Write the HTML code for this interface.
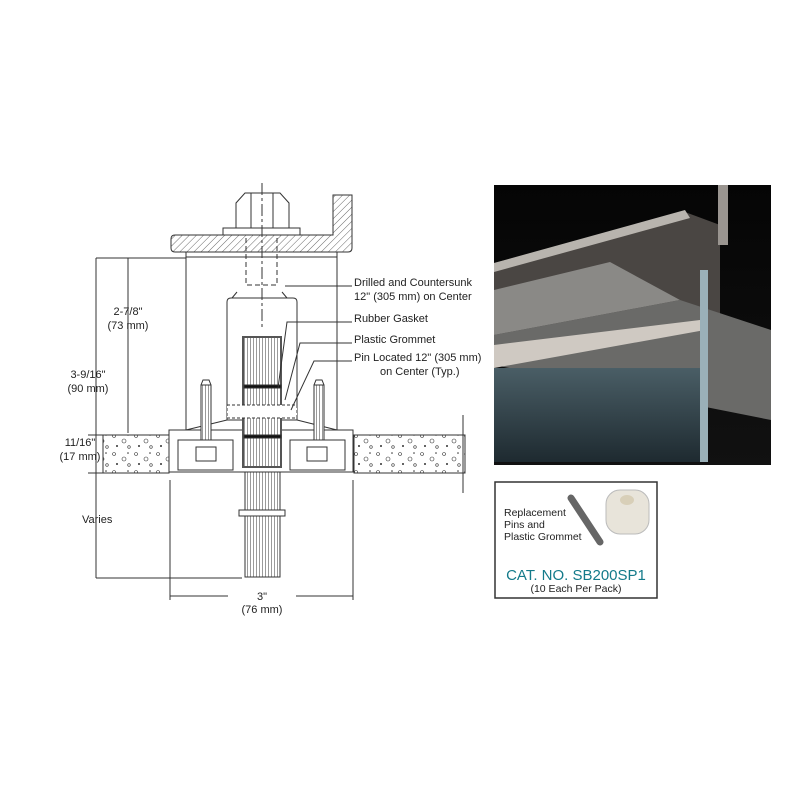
<!DOCTYPE html>
<html><head><meta charset="utf-8"><style>
body{margin:0;background:#fff;}
svg text{font-family:"Liberation Sans Narrow","Liberation Sans",sans-serif;font-size:11px;fill:#222;}
</style></head><body>
<svg width="800" height="800" viewBox="0 0 800 800" xmlns="http://www.w3.org/2000/svg">
<defs>
<pattern id="h" width="5" height="5" patternUnits="userSpaceOnUse" patternTransform="rotate(45)"><rect width="5" height="5" fill="#fff"/><line x1="0" y1="0" x2="0" y2="5" stroke="#444" stroke-width="0.8"/></pattern>
<pattern id="c" width="22" height="18" patternUnits="userSpaceOnUse"><rect width="22" height="18" fill="#fff"/><circle cx="4" cy="4" r="1.5" fill="none" stroke="#333" stroke-width="0.6"/><circle cx="14" cy="9" r="2" fill="none" stroke="#333" stroke-width="0.6"/><circle cx="7" cy="14" r="1" fill="#333"/><circle cx="18" cy="3" r="0.8" fill="#333"/><circle cx="19" cy="15" r="1.3" fill="none" stroke="#333" stroke-width="0.6"/></pattern>
<pattern id="p" width="3" height="10" patternUnits="userSpaceOnUse"><rect width="3" height="10" fill="#fff"/><line x1="1.5" y1="0" x2="1.5" y2="10" stroke="#555" stroke-width="0.6"/></pattern>
<linearGradient id="bg" x1="0" y1="0" x2="0" y2="1"><stop offset="0" stop-color="#050505"/><stop offset="1" stop-color="#111"/></linearGradient>
<linearGradient id="gl" x1="0" y1="0" x2="0" y2="1"><stop offset="0" stop-color="#4a5e66"/><stop offset="1" stop-color="#1e2a30"/></linearGradient>
</defs>
<g stroke="#333" stroke-width="1" fill="none">
<!-- concrete -->
<rect x="103" y="435" width="66" height="38" fill="url(#c)"/>
<rect x="354" y="435" width="111" height="38" fill="url(#c)"/>
<line x1="463" y1="415" x2="463" y2="493"/>
<!-- body -->
<rect x="186" y="257" width="151" height="173" fill="#fff"/>
<rect x="169" y="430" width="184" height="42" fill="#fff"/>
<path d="M186 430 L227 420 M337 430 L297 420"/>
<rect x="178" y="440" width="55" height="30"/><rect x="196" y="447" width="20" height="14"/>
<rect x="290" y="440" width="55" height="30"/><rect x="307" y="447" width="20" height="14"/>
<!-- inner housing -->
<path d="M227 420 L227 302 Q227 298 231 298 L293 298 Q297 298 297 302 L297 420 Z" fill="#fff"/>
<path d="M237 292 L232 298 M282 292 L287 298"/>
<rect x="243" y="337" width="38" height="130" fill="url(#p)"/>
<rect x="243" y="337" width="38" height="130" stroke-width="2" stroke="#555"/>
<rect x="244" y="385" width="37" height="3" fill="#111"/>
<rect x="244" y="435" width="37" height="3" fill="#111"/>
<rect x="227" y="405" width="70" height="13" fill="#fff" stroke-dasharray="3,2"/>
<rect x="245" y="472" width="35" height="105" fill="url(#p)"/>
<rect x="245" y="472" width="35" height="105"/>
<rect x="239" y="510" width="46" height="6" fill="#fff"/>
<!-- bolts -->
<rect x="201" y="385" width="10" height="55" fill="url(#p)"/><path d="M201 385 L203 380 L209 380 L211 385"/>
<rect x="314" y="385" width="10" height="55" fill="url(#p)"/><path d="M314 385 L316 380 L322 380 L324 385"/>
<!-- top plate -->
<path d="M175 235 L333 235 L333 195 L352 195 L352 248 Q352 252 348 252 L175 252 Q171 252 171 248 L171 239 Q171 235 175 235 Z" fill="url(#h)"/>
<rect x="186" y="252" width="151" height="5" fill="#fff"/>
<rect x="223" y="228" width="77" height="7" fill="#fff"/>
<path d="M245 193 L280 193 L289 203 L289 228 L236 228 L236 203 Z" fill="#fff"/>
<path d="M251 193 L251 228 M273 193 L273 228"/>
<path d="M246 238 L246 285 L277 285 L277 238" stroke-dasharray="5,3"/>
<line x1="262" y1="183" x2="262" y2="330" stroke-dasharray="12,3,3,3"/>
<!-- dims -->
<path d="M96 258 L96 578 M128 258 L128 433 M96 258 L186 258 M96 578 L242 578 M88 435 L103 435 M88 473 L103 473 M170 480 L170 600 M353 480 L353 600 M170 596 L228 596 M296 596 L353 596"/>
<!-- leaders -->
<path d="M352 286 L285 286 M352 322 L287 322 L278 388 M352 343 L300 343 L285 400 M352 361 L314 361 L291 410"/>
</g>
<g>
<text x="354" y="286">Drilled and Countersunk</text><text x="354" y="300">12" (305 mm) on Center</text>
<text x="354" y="322">Rubber Gasket</text><text x="354" y="343">Plastic Grommet</text>
<text x="354" y="361">Pin Located 12" (305 mm)</text><text x="380" y="375">on Center (Typ.)</text>
<text x="128" y="315" text-anchor="middle">2-7/8"</text><text x="128" y="329" text-anchor="middle">(73 mm)</text>
<text x="88" y="378" text-anchor="middle">3-9/16"</text><text x="88" y="392" text-anchor="middle">(90 mm)</text>
<text x="80" y="446" text-anchor="middle">11/16"</text><text x="80" y="460" text-anchor="middle">(17 mm)</text>
<text x="82" y="523">Varies</text>
<text x="262" y="600" text-anchor="middle">3"</text><text x="262" y="613" text-anchor="middle">(76 mm)</text>
</g>
<!-- photo -->
<rect x="494" y="185" width="277" height="280" fill="url(#bg)"/>
<polygon points="494,263 685,212 720,225 720,330 494,345" fill="#4a4643"/>
<polygon points="494,263 685,210 690,218 494,272" fill="#b8b4ae"/>
<polygon points="494,290 610,262 680,300 494,335" fill="#8a8986"/>
<polygon points="494,335 680,300 771,330 771,420 494,365" fill="#6a6a68"/>
<polygon points="494,345 700,320 705,330 494,368" fill="#cfc9c2"/>
<rect x="494" y="368" width="212" height="94" fill="url(#gl)"/>
<rect x="700" y="270" width="8" height="192" fill="#9ab0b8"/>
<rect x="718" y="185" width="10" height="60" fill="#9a9590"/>
<!-- catalog box -->
<rect x="495" y="482" width="162" height="116" fill="#fff" stroke="#333" stroke-width="1.5"/>
<text x="504" y="516" style="font-size:10.5px">Replacement</text>
<text x="504" y="528" style="font-size:10.5px">Pins and</text>
<text x="504" y="540" style="font-size:10.5px">Plastic Grommet</text>
<line x1="571" y1="498" x2="600" y2="542" stroke="#666" stroke-width="7" stroke-linecap="round"/>
<rect x="606" y="490" width="43" height="44" rx="14" fill="#e8e4da" stroke="#bbb"/>
<ellipse cx="627" cy="500" rx="7" ry="5" fill="#d8cfb8"/>
<text x="576" y="580" text-anchor="middle" style="font-family:'Liberation Sans',sans-serif;font-size:15px;fill:#137a8a">CAT. NO. SB200SP1</text>
<text x="576" y="592" text-anchor="middle" style="font-size:10.5px">(10 Each Per Pack)</text>
</svg>
</body></html>
